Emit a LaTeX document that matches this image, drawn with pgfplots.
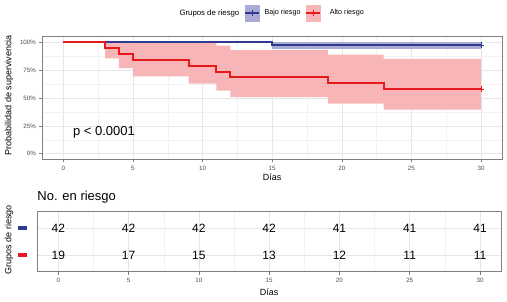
\documentclass[border=0pt]{standalone}
\usepackage{pgfplots}
\pgfplotsset{compat=1.18}
\usepackage{fontspec}
\setmainfont{Liberation Sans}
\definecolor{blueline}{HTML}{2E3B8E}
\definecolor{redline}{HTML}{E41A1C}
\definecolor{blueband}{HTML}{A9ABD4}
\definecolor{redband}{HTML}{F7B5B7}
\definecolor{gridmaj}{HTML}{E6E6E6}
\definecolor{gridmin}{HTML}{F2F2F2}
\definecolor{framec}{HTML}{7F7F7F}
\definecolor{tickc}{HTML}{4D4D4D}
\pgfplotsset{
  kmstyle/.style={
    scale only axis,
    axis line style={framec, line width=0.6pt},
    tick style={framec, line width=0.5pt},
    major tick length=3pt,
    minor tick length=0pt,
    tick align=outside,
    xtick pos=bottom, ytick pos=left,
    grid=both,
    major grid style={gridmaj, line width=0.5pt},
    minor grid style={gridmin, line width=0.3pt},
    ticklabel style={font=\fontsize{6.2}{7}\selectfont, text=tickc},
    /pgf/number format/assume math mode=true,
    xmin=-1.5, xmax=31.5,
    xtick={0,5,10,15,20,25,30},
    minor xtick={2.5,7.5,12.5,17.5,22.5,27.5},
    label style={font=\fontsize{9}{10}\selectfont},
  }
}
\begin{document}
\begin{tikzpicture}
\begin{axis}[kmstyle,
  at={(42.4pt,-36.7pt)}, anchor=north west,
  width=459.5pt, height=122.6pt,
  ymin=-0.05, ymax=1.05,
  ytick={0,0.25,0.5,0.75,1},
  yticklabels={0\%,25\%,50\%,75\%,100\%},
  minor ytick={0.125,0.375,0.625,0.875},
  xlabel={Días},
  xlabel style={at={(axis description cs:0.5,0)}, anchor=center, yshift=-17.7pt},
  ylabel={Probabilidad de supervivencia},
  ylabel style={at={(axis description cs:0,0.5)}, anchor=center, yshift=33.4pt, xshift=3pt},
  legend columns=3,
  legend style={draw=none, fill=none, at={(0.5,1)}, anchor=center, yshift=23.7pt, xshift=-2pt,
    font=\fontsize{7.2}{8}\selectfont, column sep=3pt, inner sep=0pt},
]
% blue CI band
\addplot[forget plot, fill=blueband, draw=none] coordinates {(15,1) (30,1) (30,0.94) (15,0.94)} -- cycle;
% red CI band
\addplot[forget plot, fill=redband, draw=none] coordinates {
 (3,1) (11,1) (11,0.97) (12,0.97) (12,0.93) (19,0.93) (19,0.89) (23,0.89) (23,0.85) (30,0.85)
 (30,0.395) (23,0.395) (23,0.449) (19,0.449) (19,0.509) (12,0.509) (12,0.566) (11,0.566)
 (11,0.629) (9,0.629) (9,0.695) (5,0.695) (5,0.769) (4,0.769) (4,0.856) (3,0.856)} -- cycle;
% blue KM
\addplot[forget plot, blueline, line width=2pt, const plot, mark=none] coordinates {(0,1) (15,1) (15,0.976) (30,0.976)};
\addplot[forget plot, blueline, only marks, mark=+, mark size=3.2pt, line width=0.9pt] coordinates {(30,0.976)};
% red KM
\addplot[forget plot, redline, line width=2pt, const plot, mark=none] coordinates {
 (0,1) (3,0.947) (4,0.895) (5,0.842) (9,0.789) (11,0.737) (12,0.684) (19,0.632) (23,0.579) (30,0.579)};
\addplot[forget plot, redline, only marks, mark=+, mark size=3.2pt, line width=0.9pt] coordinates {(30,0.579)};
\node[anchor=west, font=\fontsize{13}{15}\selectfont] at (axis cs:0.45,0.195) {p < 0.0001};
% legend
\addlegendimage{empty legend}
\addlegendentry{\fontsize{7.8}{9}\selectfont Grupos de riesgo\hspace{4pt}}
\addlegendimage{legend image code/.code={
  \fill[blueband] (0pt,-8pt) rectangle (14pt,8pt);
  \draw[blueline, line width=1.2pt] (0pt,0pt) -- (14pt,0pt);
  \draw[blueline, line width=0.7pt] (7pt,-2.8pt) -- (7pt,2.8pt);}}
\addlegendentry{Bajo riesgo}
\addlegendimage{legend image code/.code={
  \fill[redband] (0pt,-8pt) rectangle (14pt,8pt);
  \draw[redline, line width=1.2pt] (0pt,0pt) -- (14pt,0pt);
  \draw[redline, line width=0.7pt] (7pt,-2.8pt) -- (7pt,2.8pt);}}
\addlegendentry{\hspace{4pt}Alto riesgo}
\end{axis}

\begin{axis}[kmstyle,
  at={(37.2pt,-211.7pt)}, anchor=north west,
  width=463.9pt, height=60pt,
  ymin=0.4, ymax=2.6,
  ytick={1,2},
  yticklabels={{\color{redline}\rule[-2pt]{9pt}{4pt}},{\color{blueline}\rule[-2pt]{9pt}{4pt}}},
  yticklabel style={xshift=-4pt},
  ytick style={draw=none},
  minor ytick={},
  xlabel={Días},
  xlabel style={at={(axis description cs:0.5,0)}, anchor=center, yshift=-21pt},
  ylabel={Grupos de riesgo},
  ylabel style={at={(axis description cs:0,0.5)}, anchor=center, yshift=28.2pt, xshift=2pt},
  title={No. en riesgo},
  title style={at={(axis description cs:0,1)}, anchor=west, yshift=8.7pt, inner sep=0pt,
    font=\fontsize{13}{15}\selectfont},
  nodes near coords style={anchor=center, font=\fontsize{12}{14}\selectfont, text=black},
]
\addplot[draw=none, mark=none, nodes near coords, point meta=explicit symbolic] table[meta=n] {
x y n
0 2 42
5 2 42
10 2 42
15 2 42
20 2 41
25 2 41
30 2 41
};
\addplot[draw=none, mark=none, nodes near coords, point meta=explicit symbolic] table[meta=n] {
x y n
0 1 19
5 1 17
10 1 15
15 1 13
20 1 12
25 1 11
30 1 11
};
\end{axis}
\pgfresetboundingbox
\path[use as bounding box] (0,0) rectangle (507pt,-301pt);
\end{tikzpicture}
\end{document}
